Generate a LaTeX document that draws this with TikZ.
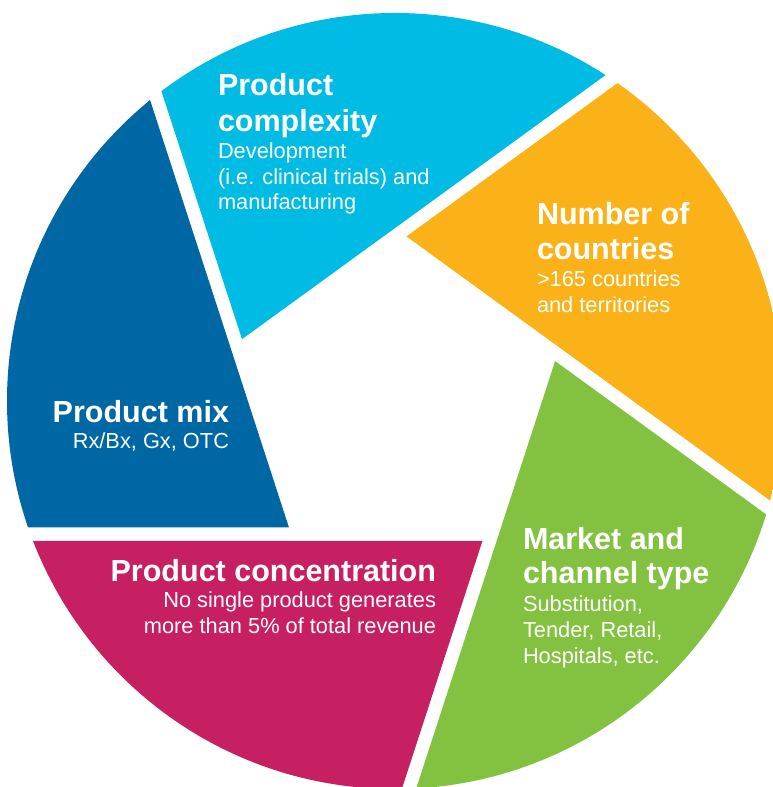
\documentclass[tikz,border=0pt]{standalone}
\usepackage{fontspec}
\setmainfont{Liberation Sans}
\usetikzlibrary{calc}

\definecolor{bladecyan}{RGB}{0,187,228}
\definecolor{bladeorange}{RGB}{250,178,24}
\definecolor{bladegreen}{RGB}{131,194,65}
\definecolor{blademagenta}{RGB}{198,32,98}
\definecolor{bladeblue}{RGB}{0,103,165}

\tikzset{
  blade/.style={fill=#1, draw=none},
  headline/.style={text=white, inner sep=0pt, outer sep=0pt,
    font=\fontsize{30.5}{35}\selectfont\bfseries},
  subline/.style={text=white, inner sep=0pt, outer sep=0pt,
    font=\fontsize{21.8}{26}\selectfont},
  lft/.style={anchor=base west},
  rgt/.style={anchor=base east},
}

\begin{document}
\begin{tikzpicture}[x=1pt,y=1pt]
\useasboundingbox (0,0) rectangle (772,787);

% disc centre and blade apexes on an inner pentagon
\coordinate (centre) at (395,386);

\begin{scope}
  \clip (centre) circle (388);
  % each blade is a 72 degree wedge opening from its apex
  \foreach \nm/\th/\col in {cyan/158/bladecyan, orange/86/bladeorange,
      green/14/bladegreen, magenta/-58/blademagenta, blue/-130/bladeblue} {
    \coordinate (apex-\nm) at ($(centre)+(\th:165)$);
    \fill[blade=\col] (apex-\nm)
      -- ($(apex-\nm)+({\th-122}:1000)$)
      -- ($(apex-\nm)+({\th-86}:1300)$)
      -- ($(apex-\nm)+({\th-50}:1000)$) -- cycle;
  }
\end{scope}

% Product complexity
\node[headline,lft] (pc1) at (218,691) {Product};
\node[headline,lft] (pc2) at (218,655) {complexity};
\node[subline,lft]  (pc3) at (218,628) {Development};
\node[subline,lft]  (pc4) at (218,602) {(i.e. clinical trials) and};
\node[subline,lft]  (pc5) at (218,577) {manufacturing};

% Number of countries
\node[headline,lft] (nc1) at (537,562) {Number of};
\node[headline,lft] (nc2) at (537,527) {countries};
\node[subline,lft]  (nc3) at (537,500) {>165 countries};
\node[subline,lft]  (nc4) at (537,474) {and territories};

% Product mix
\node[headline,rgt] (pm1) at (229,364) {Product mix};
\node[subline,rgt]  (pm2) at (229,338) {Rx/Bx, Gx, OTC};

% Product concentration
\node[headline,rgt] (co1) at (436,205) {Product concentration};
\node[subline,rgt]  (co2) at (436,179) {No single product generates};
\node[subline,rgt]  (co3) at (436,153) {more than 5\% of total revenue};

% Market and channel type
\node[headline,lft] (mc1) at (523,237) {Market and};
\node[headline,lft] (mc2) at (523,203) {channel type};
\node[subline,lft]  (mc3) at (523,175) {Substitution,};
\node[subline,lft]  (mc4) at (523,149) {Tender, Retail,};
\node[subline,lft]  (mc5) at (523,123) {Hospitals, etc.};
\end{tikzpicture}
\end{document}
